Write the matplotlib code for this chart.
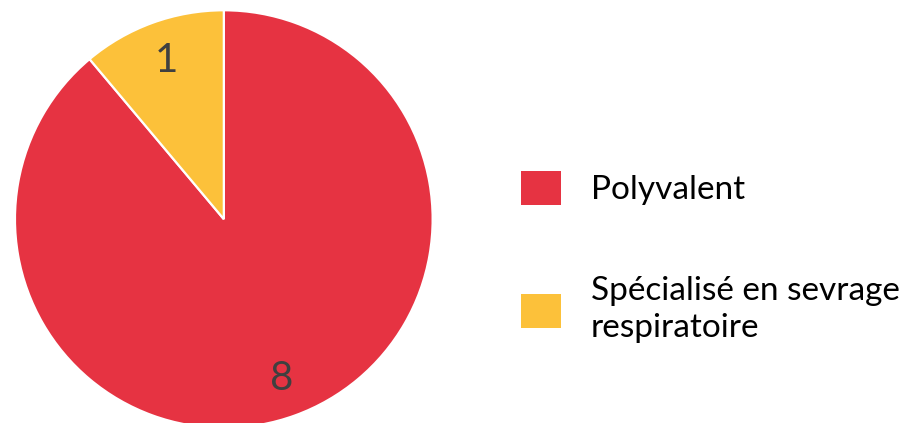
import matplotlib.pyplot as plt
from matplotlib.patches import Patch

plt.rcParams['font.family'] = ['Lato', 'DejaVu Sans']

# Data
categories = ['Polyvalent', 'Spécialisé en sevrage\nrespiratoire']
counts = [8, 1]
colors = ['#E63342', '#FCC13A']

fig = plt.figure(figsize=(9.12, 4.23), dpi=100)
ax = fig.add_axes([0.0164, -0.012, 0.458, 0.988])

wedges, texts = ax.pie(counts, colors=colors, startangle=90, counterclock=False,
                       labels=[str(c) for c in counts], labeldistance=0.81,
                       wedgeprops=dict(edgecolor='white', linewidth=1.6),
                       textprops=dict(fontsize=29, color='#404040'))
for t in texts:
    t.set_ha('center')
    t.set_va('center')
ax.set_xlim(-1, 1)
ax.set_ylim(-1, 1)

handles = [Patch(facecolor=c, edgecolor='none') for c in colors]
leg = fig.legend(handles, categories, loc='center left', bbox_to_anchor=(0.538, 0.392),
                 frameon=False, fontsize=24, handlelength=1.2, handleheight=1.2,
                 handletextpad=0.9, labelspacing=2.13)
for t in leg.get_texts():
    t.set_linespacing(1.3)

fig.savefig('out.png', dpi=100)
